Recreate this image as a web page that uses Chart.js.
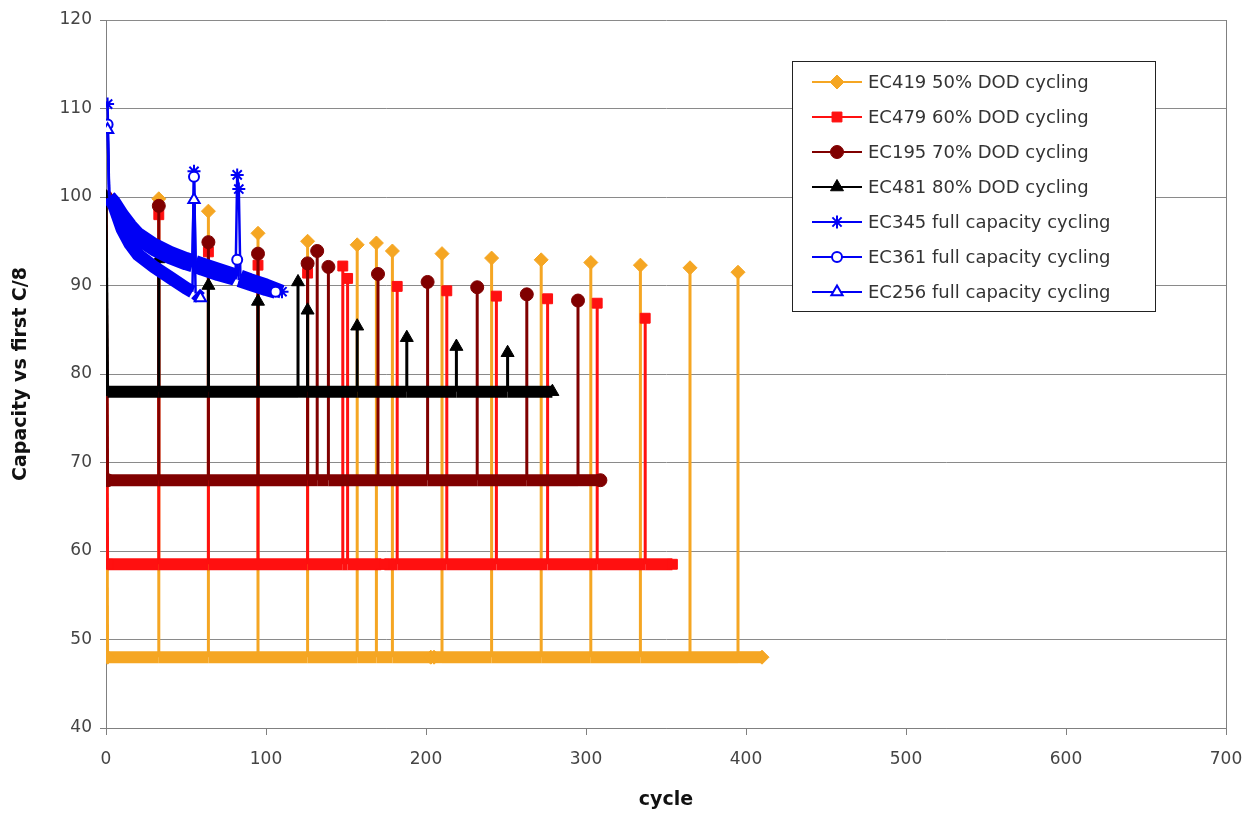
<!DOCTYPE html>
<html>
<head>
<meta charset="utf-8">
<script src="https://cdn.jsdelivr.net/npm/chart.js@4.4.1/dist/chart.umd.min.js"></script>
<style>
  html, body { margin: 0; padding: 0; background: #fff; }
  canvas { display: block; }
</style>
</head>
<body>
<canvas id="capacityChart" width="1259" height="814"></canvas>
<script>
// axis ticks
const cycleTicks = [0, 100, 200, 300, 400, 500, 600, 700];
const capacityTicks = [40, 50, 60, 70, 80, 90, 100, 110, 120];

// partial DOD cells: rest level between checks, C/8 check cycles and values
const ec419Base = 48;
const ec419Cycles = [33, 64, 95, 126, 157, 169, 179, 210, 241, 272, 303, 334, 365, 395];
const ec419Values = [99.8, 98.4, 95.9, 95.0, 94.6, 94.8, 93.9, 93.6, 93.1, 92.9, 92.6, 92.3, 92.0, 91.5];
const ec419Gaps = [204];
const ec419Last = 410;

const ec479Base = 58.5;
const ec479Cycles = [33, 64, 95, 126, 148, 151, 182, 213, 244, 276, 307, 337];
const ec479Values = [98.0, 93.8, 92.3, 91.4, 92.2, 90.8, 89.9, 89.4, 88.8, 88.5, 88.0, 86.3];
const ec479Gaps = [173];
const ec479Last = 354;

const ec195Base = 68;
const ec195Cycles = [33, 64, 95, 126, 132, 139, 170, 201, 232, 263, 295];
const ec195Values = [99.0, 94.9, 93.6, 92.5, 93.9, 92.1, 91.3, 90.4, 89.8, 89.0, 88.3];
const ec195Gaps = [];
const ec195Last = 309;

const ec481Base = 78;
const ec481Cycles = [33, 64, 95, 120, 126, 157, 188, 219, 251];
const ec481Values = [93.0, 90.0, 88.2, 90.4, 87.2, 85.4, 84.1, 83.1, 82.4];
const ec481Gaps = [];
const ec481Last = 279;

// full capacity cells: trend and check points
const ec345TrendCycles = [2, 5, 10, 15, 20, 30, 40, 50, 54, 56, 60, 70, 80, 81, 84, 90, 100, 110];
const ec345TrendValues = [100.0, 99.4, 98.0, 96.8, 95.8, 94.6, 93.7, 93.0, 92.75, 92.65, 92.4, 91.8, 91.2, 91.15, 91.0, 90.6, 90.0, 89.3];
const ec345CheckCycles = [1, 55, 82, 83];
const ec345CheckValues = [110.5, 102.9, 102.5, 100.9];

const ec361TrendCycles = [2, 5, 10, 15, 20, 30, 40, 50, 54, 56, 60, 70, 80, 81, 83, 90, 100, 106];
const ec361TrendValues = [100.0, 99.2, 97.6, 96.3, 95.3, 94.1, 93.2, 92.5, 92.3, 92.2, 91.9, 91.3, 90.8, 90.7, 90.6, 90.2, 89.6, 89.3];
const ec361CheckCycles = [1, 55, 82];
const ec361CheckValues = [108.2, 102.3, 92.9];

const ec256TrendCycles = [2, 5, 10, 15, 20, 30, 40, 50, 54, 56, 59];
const ec256TrendValues = [100.0, 99.0, 96.4, 94.7, 93.5, 92.1, 90.9, 89.7, 89.3, 89.1, 88.6];
const ec256CheckCycles = [1, 55];
const ec256CheckValues = [107.6, 99.7];

// every cell starts from its first C/8 (100%) at cycle 0
function dodPoints(base, cycles, values, gaps, last) {
  var pts = [{ x: 0, y: 100, check: true }, { x: 1, y: base, edge: true }];
  var events = [];
  cycles.forEach(function (c, i) { events.push({ x: c, y: values[i] }); });
  gaps.forEach(function (g) { events.push({ x: g, y: null }); });
  events.sort(function (a, b) { return a.x - b.x; });
  events.forEach(function (e) {
    if (e.y === null) {
      pts.push({ x: e.x - 1, y: base, edge: true }, { x: e.x, y: null }, { x: e.x + 1, y: base, edge: true });
    } else {
      pts.push({ x: e.x, y: base }, { x: e.x, y: e.y, check: true }, { x: e.x, y: base });
    }
  });
  pts.push({ x: last, y: base, edge: true });
  return pts;
}

function fullPoints(trendCycles, trendValues, checkCycles, checkValues) {
  var pts = trendCycles.map(function (c, i) { return { x: c, y: trendValues[i] }; });
  checkCycles.forEach(function (c, i) { pts.push({ x: c, y: checkValues[i], check: true }); });
  pts.sort(function (a, b) { return a.x - b.x; });
  pts[pts.length - 1].edge = true;
  return pts;
}

function rawAt(ctx, idx) {
  return ctx.chart.data.datasets[ctx.datasetIndex].data[idx] || {};
}

function series(label, color, data, opts) {
  var thick = opts.thick, thin = opts.thin;
  return Object.assign({
    label: label,
    data: data,
    borderColor: color,
    pointBackgroundColor: color,
    pointBorderColor: color,
    pointBorderWidth: 1,
    borderJoinStyle: 'round',
    spanGaps: false,
    pointRadius: function (ctx) {
      return ctx.raw && (ctx.raw.check || ctx.raw.edge) ? opts.markerSize : 0;
    },
    segment: {
      borderWidth: function (ctx) {
        var a = rawAt(ctx, ctx.p0DataIndex), b = rawAt(ctx, ctx.p1DataIndex);
        return a.check || b.check ? thin : thick;
      }
    }
  }, opts);
}

const orange = '#F5A623', red = '#FF1010', maroon = '#800000', black = '#000000', blue = '#0000F5';

const legendBox = {
  id: 'legendBox',
  afterDraw: function (chart) {
    var ctx = chart.ctx;
    var left = 792, top = 61, width = 363, height = 250, rowH = 35;
    ctx.save();
    ctx.fillStyle = '#fff';
    ctx.fillRect(left, top, width, height);
    ctx.strokeStyle = '#222';
    ctx.lineWidth = 1;
    ctx.strokeRect(left + 0.5, top + 0.5, width, height);
    chart.data.datasets.forEach(function (ds, i) {
      var y = top + 21 + i * rowH;
      ctx.strokeStyle = ds.borderColor;
      ctx.lineWidth = 2;
      ctx.beginPath();
      ctx.moveTo(812, y);
      ctx.lineTo(862, y);
      ctx.stroke();
      ctx.fillStyle = ds.pointBackgroundColor;
      ctx.strokeStyle = ds.pointBorderColor;
      ctx.lineWidth = ds.pointBorderWidth;
      Chart.helpers.drawPoint(ctx, {
        pointStyle: ds.pointStyle, radius: ds.markerSize,
        borderWidth: ds.pointBorderWidth, rotation: 0
      }, 837, y);
      ctx.fillStyle = '#333';
      ctx.font = '18px "DejaVu Sans"';
      ctx.textBaseline = 'middle';
      ctx.textAlign = 'left';
      ctx.fillText(ds.label, 868, y + 1);
    });
    ctx.restore();
  }
};

var ctx = document.getElementById('capacityChart').getContext('2d');

var capacityChart = new Chart(ctx, {
  type: 'line',
  data: {
    datasets: [
      series('EC419 50% DOD cycling', orange, dodPoints(ec419Base, ec419Cycles, ec419Values, ec419Gaps, ec419Last),
        { pointStyle: 'rectRot', markerSize: 7, thick: 12, thin: 3, order: 7 }),
      series('EC479 60% DOD cycling', red, dodPoints(ec479Base, ec479Cycles, ec479Values, ec479Gaps, ec479Last),
        { pointStyle: 'rect', markerSize: 7, thick: 12, thin: 3, order: 6 }),
      series('EC195 70% DOD cycling', maroon, dodPoints(ec195Base, ec195Cycles, ec195Values, ec195Gaps, ec195Last),
        { pointStyle: 'circle', markerSize: 6.5, thick: 12, thin: 3, order: 5 }),
      series('EC481 80% DOD cycling', black, dodPoints(ec481Base, ec481Cycles, ec481Values, ec481Gaps, ec481Last),
        { pointStyle: 'triangle', markerSize: 7.5, thick: 12, thin: 3, order: 4 }),
      series('EC345 full capacity cycling', blue, fullPoints(ec345TrendCycles, ec345TrendValues, ec345CheckCycles, ec345CheckValues),
        { pointStyle: 'star', markerSize: 6.5, pointBorderWidth: 2, thick: 14, thin: 2.5, order: 3 }),
      series('EC361 full capacity cycling', blue, fullPoints(ec361TrendCycles, ec361TrendValues, ec361CheckCycles, ec361CheckValues),
        { pointStyle: 'circle', markerSize: 5, pointBackgroundColor: '#fff', pointBorderWidth: 2, thick: 14, thin: 2.5, order: 2 }),
      series('EC256 full capacity cycling', blue, fullPoints(ec256TrendCycles, ec256TrendValues, ec256CheckCycles, ec256CheckValues),
        { pointStyle: 'triangle', markerSize: 6.5, pointBackgroundColor: '#fff', pointBorderWidth: 2, thick: 13, thin: 2.5, order: 1 })
    ]
  },
  options: {
    responsive: false,
    animation: false,
    events: [],
    layout: { padding: { top: 20, right: 33, bottom: 0, left: 0 } },
    plugins: { legend: { display: false }, tooltip: { enabled: false } },
    scales: {
      x: {
        type: 'linear',
        min: 0,
        max: 700,
        afterBuildTicks: function (scale) {
          scale.ticks = cycleTicks.map(function (v) { return { value: v }; });
        },
        afterFit: function (scale) { scale.height = 86; },
        border: { color: '#808080', width: 1 },
        grid: {
          color: function (c) { return c.tick && c.tick.value === 700 ? '#808080' : 'rgba(0,0,0,0)'; },
          tickColor: '#808080',
          tickLength: 7
        },
        ticks: { font: { family: 'DejaVu Sans', size: 17 }, color: '#444', padding: 14, maxRotation: 0 },
        title: {
          display: true,
          text: 'cycle',
          font: { family: 'DejaVu Sans', size: 19, weight: 'bold' },
          color: '#111',
          padding: { top: 0, bottom: 3 }
        }
      },
      y: {
        min: 40,
        max: 120,
        afterBuildTicks: function (scale) {
          scale.ticks = capacityTicks.map(function (v) { return { value: v }; });
        },
        afterFit: function (scale) { scale.width = 106; },
        border: { color: '#808080', width: 1 },
        grid: { color: '#8a8a8a', tickColor: '#808080', tickLength: 6 },
        ticks: { font: { family: 'DejaVu Sans', size: 17 }, color: '#444', padding: 8 },
        title: {
          display: true,
          text: 'Capacity vs first C/8',
          font: { family: 'DejaVu Sans', size: 19, weight: 'bold' },
          color: '#111',
          padding: { top: 10, bottom: 0 }
        }
      }
    }
  },
  plugins: [legendBox]
});
</script>
</body>
</html>
